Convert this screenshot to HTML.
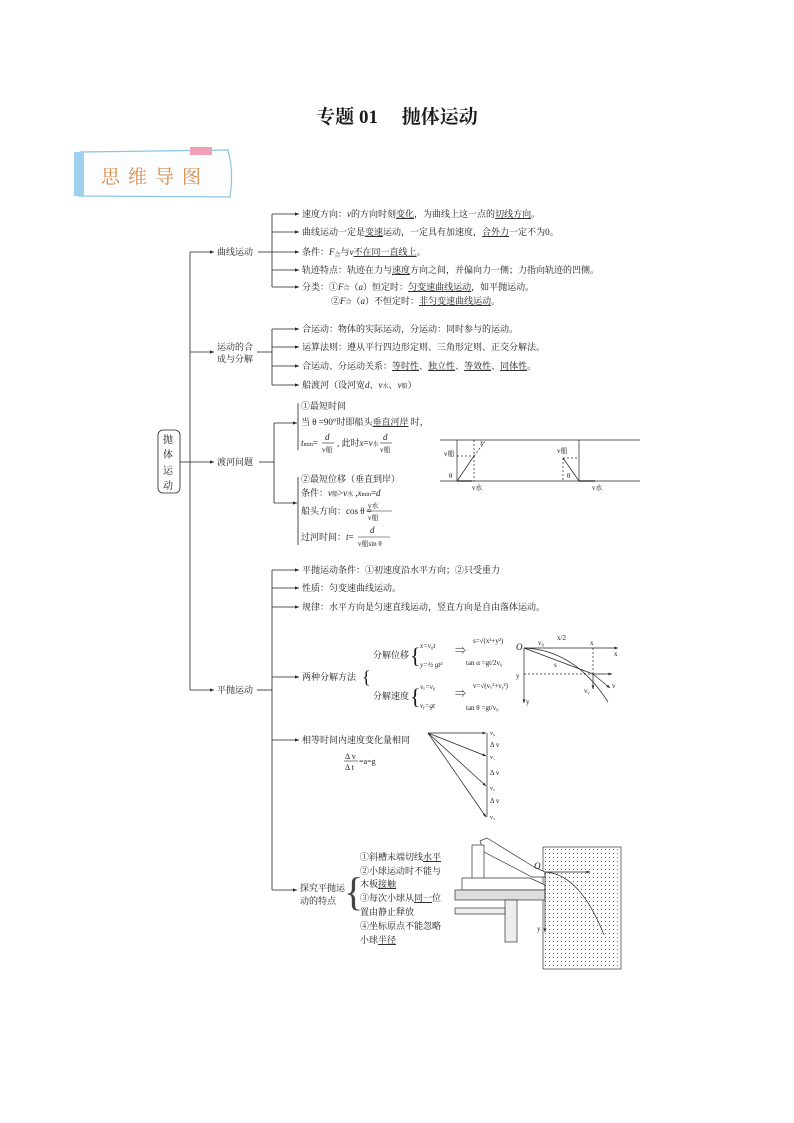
<!DOCTYPE html>
<html><head><meta charset="utf-8"><style>
html,body{margin:0;padding:0;background:#fff}
svg{display:block}
text{font-family:"Liberation Serif","Noto Serif CJK SC",serif;font-size:9px;fill:#1a1a1a}
.u{text-decoration:underline}
</style></head><body>
<svg width="794" height="1123" viewBox="0 0 794 1123" xmlns="http://www.w3.org/2000/svg">
<defs><marker id="a" markerWidth="6" markerHeight="6" refX="5" refY="3" orient="auto"><path d="M0,1 L5,3 L0,5z" fill="#222"/></marker>
<pattern id="g" width="4" height="4" patternUnits="userSpaceOnUse"><rect x="1" y="1" width="1" height="1" fill="#666"/></pattern></defs>
<text x="397" y="123" text-anchor="middle" style="font-size:19px;font-weight:bold">专题 01　 抛体运动</text>
<!-- banner -->
<path d="M80,152 L228,150 Q234,172 230,197 L78,196 Q72,175 80,152z" fill="#fbfdff" stroke="#8cc4e0" stroke-width="1.2"/>
<rect x="74" y="152" width="10" height="44" fill="#9fd0ee"/>
<rect x="190" y="147" width="22" height="8" fill="#f0a0b4"/>
<text x="101" y="183" style="font-size:19px;fill:#d98a4a;letter-spacing:8px">思维导图</text>
<g stroke="#222" stroke-width="0.8" fill="none">
<rect x="158" y="430" width="22" height="63" rx="5"/>
<line x1="180" y1="462" x2="190" y2="462"/>
<line x1="190" y1="252" x2="190" y2="690"/>
<line x1="190" y1="252" x2="214" y2="252" marker-end="url(#a)"/>
<line x1="190" y1="352" x2="214" y2="352" marker-end="url(#a)"/>
<line x1="190" y1="462" x2="214" y2="462" marker-end="url(#a)"/>
<line x1="190" y1="690" x2="214" y2="690" marker-end="url(#a)"/>
<line x1="258" y1="252" x2="272" y2="252"/>
<line x1="272" y1="214" x2="272" y2="287"/>
<line x1="272" y1="214" x2="299" y2="214" marker-end="url(#a)"/>
<line x1="272" y1="232" x2="299" y2="232" marker-end="url(#a)"/>
<line x1="272" y1="252" x2="299" y2="252" marker-end="url(#a)"/>
<line x1="272" y1="270" x2="299" y2="270" marker-end="url(#a)"/>
<line x1="272" y1="287" x2="299" y2="287" marker-end="url(#a)"/>
<line x1="257" y1="352" x2="272" y2="352"/>
<line x1="272" y1="329" x2="272" y2="385"/>
<line x1="272" y1="329" x2="299" y2="329" marker-end="url(#a)"/>
<line x1="272" y1="347" x2="299" y2="347" marker-end="url(#a)"/>
<line x1="272" y1="366" x2="299" y2="366" marker-end="url(#a)"/>
<line x1="272" y1="385" x2="299" y2="385" marker-end="url(#a)"/>
<line x1="259" y1="462" x2="274" y2="462"/>
<line x1="274" y1="423" x2="274" y2="503"/>
<line x1="274" y1="423" x2="297" y2="423" marker-end="url(#a)"/>
<line x1="274" y1="503" x2="297" y2="503" marker-end="url(#a)"/>
<line x1="298" y1="403" x2="298" y2="450"/>
<line x1="298" y1="477" x2="298" y2="545"/>
<line x1="257" y1="690" x2="272" y2="690"/>
<line x1="272" y1="570" x2="272" y2="890"/>
<line x1="272" y1="570" x2="299" y2="570" marker-end="url(#a)"/>
<line x1="272" y1="588" x2="299" y2="588" marker-end="url(#a)"/>
<line x1="272" y1="607" x2="299" y2="607" marker-end="url(#a)"/>
<line x1="272" y1="677" x2="299" y2="677" marker-end="url(#a)"/>
<line x1="272" y1="740" x2="299" y2="740" marker-end="url(#a)"/>
<line x1="272" y1="890" x2="297" y2="890" marker-end="url(#a)"/>
</g>
<text x="163" y="443" style="font-size:10px">抛</text>
<text x="163" y="458" style="font-size:10px">体</text>
<text x="163" y="474" style="font-size:10px">运</text>
<text x="163" y="489" style="font-size:10px">动</text>
<text x="217" y="255">曲线运动</text>
<text x="217" y="350">运动的合</text>
<text x="217" y="362">成与分解</text>
<text x="217" y="465">渡河问题</text>
<text x="217" y="693">平抛运动</text>
<text x="302" y="217">速度方向：<tspan font-style="italic">v</tspan>的方向时刻<tspan class="u">变化</tspan>，为曲线上这一点的<tspan class="u">切线方向</tspan>。</text>
<text x="302" y="235">曲线运动一定是<tspan class="u">变速</tspan>运动，一定具有加速度，<tspan class="u">合外力</tspan>一定不为0。</text>
<text x="302" y="255">条件：<tspan font-style="italic">F</tspan><tspan style="font-size:6px" dy="2">合</tspan><tspan dy="-2">与</tspan><tspan font-style="italic">v</tspan><tspan class="u">不在同一直线上</tspan>。</text>
<text x="302" y="273">轨迹特点：轨迹在力与<tspan class="u">速度</tspan>方向之间，并偏向力一侧；力指向轨迹的凹侧。</text>
<text x="302" y="290">分类：①<tspan font-style="italic">F</tspan><tspan style="font-size:6px">合</tspan>（<tspan font-style="italic">a</tspan>）恒定时：<tspan class="u">匀变速曲线运动</tspan>，如平抛运动。</text>
<text x="331" y="304">②<tspan font-style="italic">F</tspan><tspan style="font-size:6px">合</tspan>（<tspan font-style="italic">a</tspan>）不恒定时：<tspan class="u">非匀变速曲线运动</tspan>。</text>
<text x="302" y="332">合运动：物体的实际运动，分运动：同时参与的运动。</text>
<text x="302" y="350">运算法则：遵从平行四边形定则、三角形定则、正交分解法。</text>
<text x="302" y="369">合运动、分运动关系：<tspan class="u">等时性</tspan>、<tspan class="u">独立性</tspan>、<tspan class="u">等效性</tspan>、<tspan class="u">同体性</tspan>。</text>
<text x="302" y="388">船渡河（设河宽<tspan font-style="italic">d</tspan>、<tspan font-style="italic">v</tspan><tspan style="font-size:6px">水</tspan>、<tspan font-style="italic">v</tspan><tspan style="font-size:6px">船</tspan>）</text>
<text x="301" y="409">①最短时间</text>
<text x="301" y="425">当 θ =90°时即船头<tspan class="u">垂直河岸</tspan> 时，</text>
<text x="301" y="446"><tspan font-style="italic">t</tspan><tspan style="font-size:6px">min</tspan>=</text>
<text x="325" y="440" style="font-style:italic">d</text><line x1="322" y1="443" x2="334" y2="443" stroke="#222" stroke-width="0.6"/><text x="322" y="452" style="font-size:7px">v船</text>
<text x="337" y="446">, 此时<tspan font-style="italic">x</tspan>=<tspan font-style="italic">v</tspan><tspan style="font-size:6px">水</tspan></text>
<text x="383" y="440" style="font-style:italic">d</text><line x1="380" y1="443" x2="392" y2="443" stroke="#222" stroke-width="0.6"/><text x="380" y="452" style="font-size:7px">v船</text>
<text x="301" y="482">②最短位移（垂直到岸）</text>
<text x="301" y="496">条件：<tspan font-style="italic">v</tspan><tspan style="font-size:6px">船</tspan>&gt;<tspan font-style="italic">v</tspan><tspan style="font-size:6px">水</tspan> ,<tspan font-style="italic">x</tspan><tspan style="font-size:6px">min</tspan>=<tspan font-style="italic">d</tspan></text>
<text x="301" y="514">船头方向：cos θ =</text>
<text x="368" y="508" style="font-size:7px">v水</text><line x1="366" y1="511" x2="392" y2="511" stroke="#222" stroke-width="0.6"/><text x="368" y="520" style="font-size:7px">v船</text>
<text x="301" y="540">过河时间：<tspan font-style="italic">t</tspan>=</text>
<text x="370" y="533" style="font-style:italic">d</text><line x1="358" y1="537" x2="390" y2="537" stroke="#222" stroke-width="0.6"/><text x="358" y="546" style="font-size:7px">v船sin θ</text>
<!-- river diagram -->
<g stroke="#222" stroke-width="0.7" fill="none">
<line x1="440" y1="440" x2="640" y2="440"/><line x1="440" y1="481" x2="640" y2="481"/>
<line x1="457" y1="481" x2="457" y2="440"/><line x1="457" y1="481" x2="474" y2="456"/>
<line x1="474" y1="440" x2="474" y2="481" stroke-dasharray="2,2"/><line x1="457" y1="456" x2="474" y2="456" stroke-dasharray="2,2"/>
<line x1="474" y1="456" x2="486" y2="440" stroke-dasharray="2,2"/>
<line x1="457" y1="481" x2="472" y2="481" stroke-width="1.3"/>
<line x1="579" y1="481" x2="579" y2="440"/><line x1="579" y1="481" x2="563" y2="458"/>
<line x1="563" y1="458" x2="579" y2="458" stroke-dasharray="2,2"/><line x1="563" y1="458" x2="563" y2="481" stroke-dasharray="2,2"/>
<line x1="579" y1="481" x2="595" y2="481" stroke-width="1.3"/>
</g>
<text x="444" y="456" style="font-size:7px">v船</text><text x="449" y="478" style="font-size:7px">θ</text>
<text x="480" y="445" style="font-size:7px">x</text><text x="472" y="490" style="font-size:7px">v水</text>
<text x="557" y="453" style="font-size:7px">v船</text><text x="567" y="478" style="font-size:7px">θ</text><text x="592" y="490" style="font-size:7px">v水</text>
<text x="302" y="573">平抛运动条件：①初速度沿水平方向；②只受重力</text>
<text x="302" y="591">性质：匀变速曲线运动。</text>
<text x="302" y="610">规律：水平方向是匀速直线运动，竖直方向是自由落体运动。</text>
<text x="302" y="680">两种分解方法</text>
<text x="362" y="683" style="font-size:18px;font-weight:100">{</text>
<text x="373" y="658">分解位移</text>
<text x="373" y="699">分解速度</text>
<text x="410" y="663" style="font-size:22px;font-weight:100">{</text>
<text x="410" y="704" style="font-size:22px;font-weight:100">{</text>
<text x="420" y="648" style="font-size:7px;font-style:italic">x=v₀t</text>
<text x="420" y="667" style="font-size:7px;font-style:italic">y=½ gt²</text>
<text x="420" y="689" style="font-size:7px;font-style:italic">vₓ=v₀</text>
<text x="420" y="708" style="font-size:7px;font-style:italic">vᵧ=gt</text>
<text x="455" y="654" style="font-size:11px">⇒</text><text x="455" y="697" style="font-size:11px">⇒</text>
<text x="473" y="643" style="font-size:7px">s=√(x²+y²)</text>
<text x="466" y="665" style="font-size:7px">tan α =gt/2v₀</text>
<text x="473" y="688" style="font-size:7px">v=√(vₓ²+vᵧ²)</text>
<text x="466" y="710" style="font-size:7px">tan θ =gt/v₀</text>
<g stroke="#222" stroke-width="0.7" fill="none">
<line x1="524" y1="648" x2="618" y2="648" marker-end="url(#a)"/>
<line x1="524" y1="648" x2="524" y2="703" marker-end="url(#a)"/>
<path d="M524,648 Q575,650 608,702"/>
<line x1="524" y1="648" x2="593" y2="674"/>
<line x1="593" y1="648" x2="593" y2="674" stroke-dasharray="2,2"/>
<line x1="524" y1="674" x2="593" y2="674" stroke-dasharray="2,2"/>
<line x1="593" y1="674" x2="612" y2="674" marker-end="url(#a)"/>
<line x1="593" y1="674" x2="593" y2="689" marker-end="url(#a)"/>
<line x1="593" y1="674" x2="610" y2="688" marker-end="url(#a)"/>
</g>
<text x="516" y="650" style="font-size:9px;font-style:italic">O</text><text x="614" y="656" style="font-size:7px">x</text>
<text x="516" y="678" style="font-size:7px">y</text><text x="526" y="704" style="font-size:7px">y</text>
<text x="538" y="645" style="font-size:7px">v₀</text><text x="557" y="640" style="font-size:7px">x/2</text>
<text x="590" y="645" style="font-size:7px">x</text><text x="554" y="667" style="font-size:7px">s</text>
<text x="584" y="693" style="font-size:7px">vᵧ</text><text x="612" y="688" style="font-size:7px">v</text>
<text x="302" y="743">相等时间内速度变化量相同</text>
<text x="345" y="759" style="font-size:8px">Δ v</text><line x1="344" y1="761" x2="358" y2="761" stroke="#222" stroke-width="0.6"/>
<text x="345" y="770" style="font-size:8px">Δ t</text><text x="359" y="764" style="font-size:8px">=a=g</text>
<g stroke="#222" stroke-width="0.7" fill="none">
<line x1="428" y1="733" x2="486" y2="733" marker-end="url(#a)"/>
<line x1="428" y1="733" x2="486" y2="756" marker-end="url(#a)"/>
<line x1="428" y1="733" x2="486" y2="786" marker-end="url(#a)"/>
<line x1="428" y1="733" x2="486" y2="817" marker-end="url(#a)"/>
<line x1="487" y1="733" x2="487" y2="817"/>
</g>
<text x="490" y="735" style="font-size:6px">v₀</text><text x="490" y="747" style="font-size:7px">Δ v</text>
<text x="490" y="759" style="font-size:6px">v₁</text><text x="490" y="775" style="font-size:7px">Δ v</text>
<text x="490" y="790" style="font-size:6px">v₂</text><text x="490" y="803" style="font-size:7px">Δ v</text>
<text x="490" y="819" style="font-size:6px">v₃</text>
<text x="300" y="891">探究平抛运</text><text x="300" y="904">动的特点</text>
<text x="344" y="905" style="font-size:40px;font-weight:100;fill:#444">{</text>
<text x="360" y="860">①斜槽末端切线<tspan class="u">水平</tspan></text>
<text x="360" y="874">②小球运动时不能与</text>
<text x="360" y="887">木板<tspan class="u">接触</tspan></text>
<text x="360" y="901">③每次小球从<tspan class="u">同一</tspan>位</text>
<text x="360" y="915">置由静止释放</text>
<text x="360" y="929">④坐标原点不能忽略</text>
<text x="360" y="943">小球<tspan class="u">半径</tspan></text>
<!-- apparatus -->
<g stroke="#333" stroke-width="0.7" fill="#fff">
<rect x="543" y="847" width="78" height="122" fill="url(#g)"/>
<polygon points="480,841 487,838 534,867 545,872 545,877 532,877 484,852"/>
<rect x="472" y="845" width="12" height="35"/>
<polygon points="462,878 530,878 545,885 545,890 462,890"/>
<rect x="455" y="890" width="90" height="10" fill="#ddd"/>
<rect x="505" y="900" width="12" height="42" fill="#eee"/>
<rect x="455" y="908" width="50" height="6" fill="#eee"/>
</g>
<g stroke="#222" stroke-width="0.7" fill="none">
<line x1="545" y1="872" x2="590" y2="872" marker-end="url(#a)"/>
<line x1="545" y1="872" x2="545" y2="932" marker-end="url(#a)"/>
<path d="M545,872 Q580,874 604,935"/>
</g>
<text x="534" y="869" style="font-size:9px;font-style:italic">O</text><text x="537" y="931" style="font-size:7px">y</text>
</svg>
</body></html>
